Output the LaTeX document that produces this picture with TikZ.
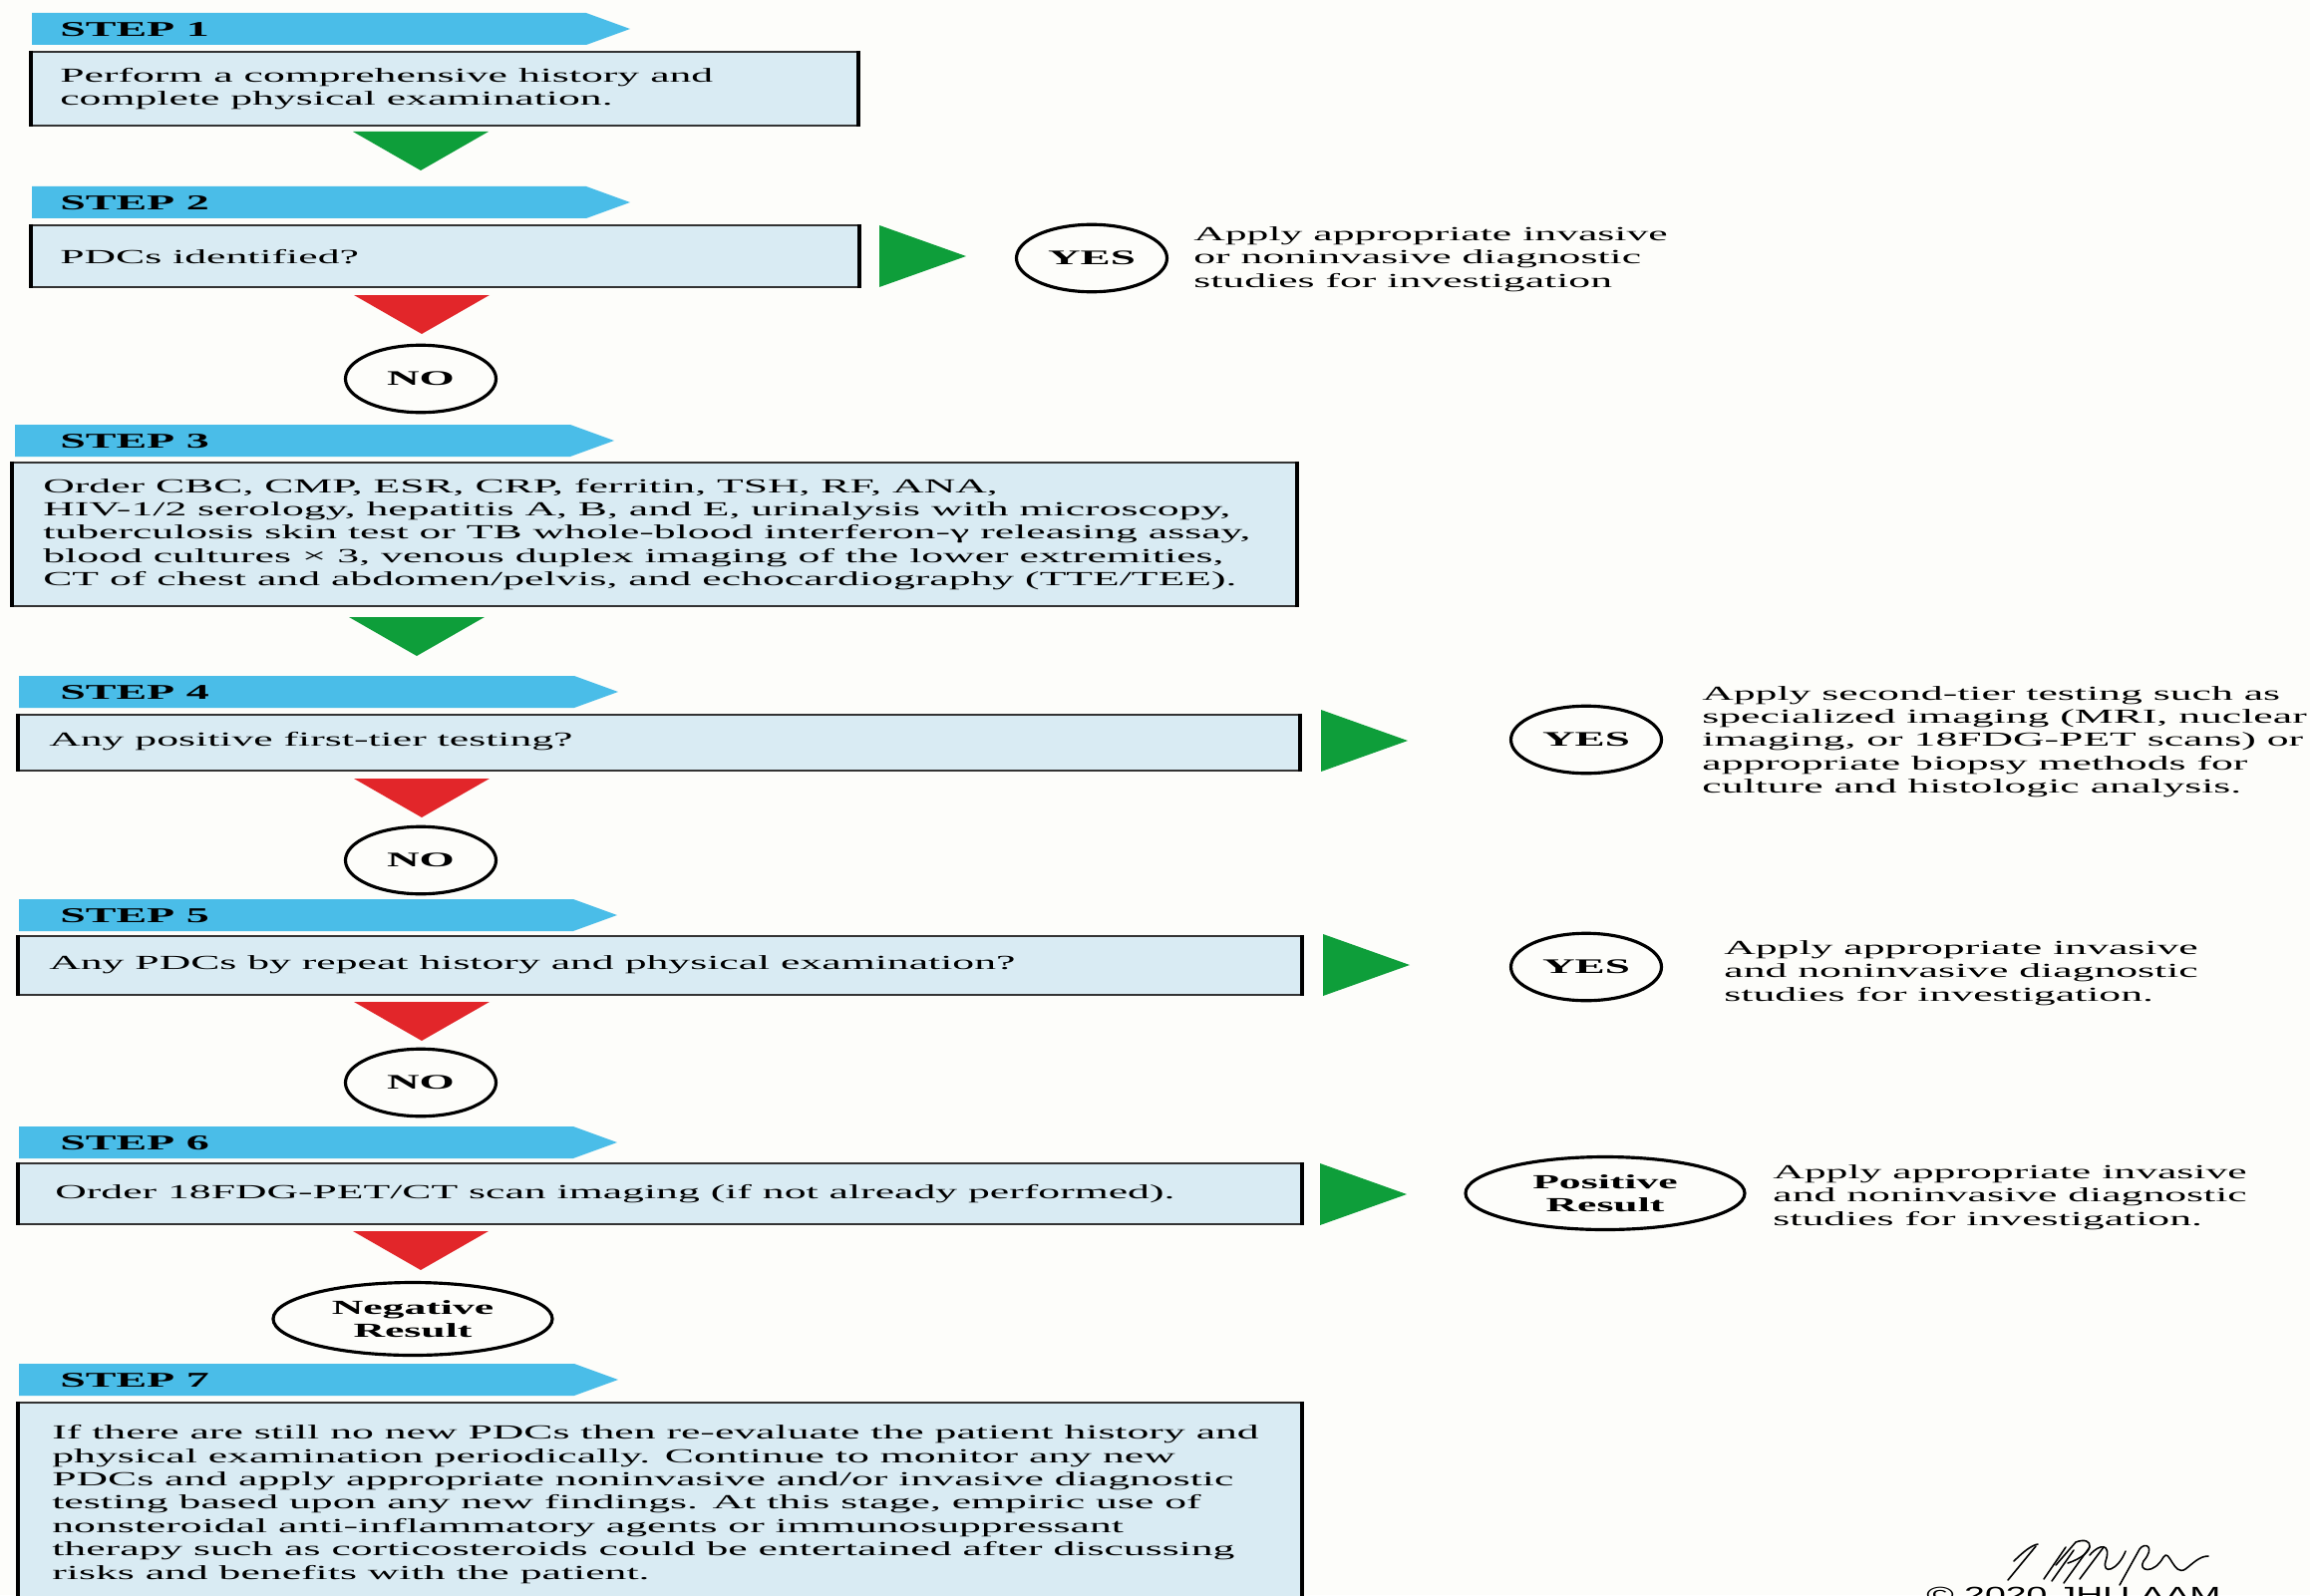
\documentclass[tikz,border=0pt]{standalone}
\usepackage{fontspec}
\setmainfont{Liberation Serif}[FakeStretch=2.18]
\newfontfamily\signfont{Liberation Sans}[FakeStretch=1.7]
\usetikzlibrary{shapes.geometric, fit, calc}
\definecolor{pagebg}{RGB}{253,253,250}
\definecolor{bannerc}{RGB}{74,189,232}
\definecolor{boxfill}{RGB}{217,235,243}
\definecolor{goc}{RGB}{14,158,58}
\definecolor{stopc}{RGB}{226,38,42}
\tikzset{
  stepbox/.style={fill=boxfill, draw=black!80, line width=1.3pt, inner sep=0pt},
  boxside/.style={black, line width=2.6pt},
  bodytext/.style={font=\fontsize{11.4}{13.3}\selectfont, align=left, inner sep=0pt, anchor=west},
  steplabel/.style={font=\fontsize{12}{13}\selectfont\bfseries, inner sep=0pt, anchor=west},
  answer/.style={ellipse, draw=black, line width=1.8pt, inner sep=0pt,
    font=\fontsize{11.8}{13}\selectfont\bfseries, minimum width=30.2mm, minimum height=13.5mm},
  result/.style={answer, font=\fontsize{11.4}{13}\selectfont\bfseries, align=center,
    minimum width=56mm, minimum height=14.6mm},
  sig/.style={black, line width=0.9pt, line cap=round, line join=round}
}
% banner: name, number, left x, tip x, top y
\newcommand{\stepbanner}[5]{%
  \fill[bannerc] (#3,#5) -- (#4-44,#5) -- (#4,#5+16) -- (#4-44,#5+32) -- (#3,#5+32) -- cycle;
  \node[steplabel] (#1) at (60,#5+17) {STEP #2};}
% box: name, x1, y1, x2, y2
\newcommand{\flowbox}[5]{%
  \node[stepbox, fit={(#2,#3) (#4,#5)}] (#1) {};
  \draw[boxside] (#1.north west) -- (#1.south west) (#1.north east) -- (#1.south east);}
\newcommand{\downtri}[3]{\fill[#1] (#2-68,#3) -- (#2+68,#3) -- (#2,#3+39) -- cycle;}
\newcommand{\righttri}[3]{\fill[#1] (#2,#3) -- (#2+87,#3+31) -- (#2,#3+62) -- cycle;}

\begin{document}
\begin{tikzpicture}[x=0.2mm, y=-0.2mm]
  \useasboundingbox (0,0) rectangle (2317,1600);
  \fill[pagebg] (0,0) rectangle (2317,1600);

  % step 1
  \stepbanner{s1}{1}{32}{632}{13}
  \flowbox{b1}{32}{52}{860}{126}
  \node[bodytext] (t1) at (60,89) {Perform a comprehensive history and\\complete physical examination.};
  \downtri{goc}{422}{132}

  % step 2
  \stepbanner{s2}{2}{32}{632}{187}
  \flowbox{b2}{32}{226}{861}{288}
  \node[bodytext] (t2) at (60,258) {PDCs identified?};
  \righttri{goc}{882}{226}
  \node[answer] (yes2) at (1095,259) {YES};
  \node[bodytext] (n2) at (1197,260) {Apply appropriate invasive\\or noninvasive diagnostic\\studies for investigation};
  \downtri{stopc}{423}{296}
  \node[answer] (no2) at (422,380) {NO};

  % step 3
  \stepbanner{s3}{3}{15}{616}{426}
  \flowbox{b3}{13}{464}{1300}{608}
  \node[bodytext] (t3) at (43,536) {Order CBC, CMP, ESR, CRP, ferritin, TSH, RF, ANA,\\
    HIV-1/2 serology, hepatitis A, B, and E, urinalysis with microscopy,\\
    tuberculosis skin test or TB whole-blood interferon-γ releasing assay,\\
    blood cultures × 3, venous duplex imaging of the lower extremities,\\
    CT of chest and abdomen/pelvis, and echocardiography (TTE/TEE).};
  \downtri{goc}{418}{619}

  % step 4
  \stepbanner{s4}{4}{19}{620}{678}
  \flowbox{b4}{19}{717}{1303}{773}
  \node[bodytext] (t4) at (49,744) {Any positive first-tier testing?};
  \righttri{goc}{1325}{712}
  \node[answer] (yes4) at (1591,742) {YES};
  \node[bodytext] (n4) at (1707,744) {Apply second-tier testing such as\\specialized imaging (MRI, nuclear\\imaging, or 18FDG-PET scans) or\\appropriate biopsy methods for\\culture and histologic analysis.};
  \downtri{stopc}{423}{781}
  \node[answer] (no4) at (422,863) {NO};

  % step 5
  \stepbanner{s5}{5}{19}{619}{902}
  \flowbox{b5}{19}{939}{1305}{998}
  \node[bodytext] (t5) at (49,968) {Any PDCs by repeat history and physical examination?};
  \righttri{goc}{1327}{937}
  \node[answer] (yes5) at (1591,970) {YES};
  \node[bodytext] (n5) at (1729,976) {Apply appropriate invasive\\and noninvasive diagnostic\\studies for investigation.};
  \downtri{stopc}{423}{1005}
  \node[answer] (no5) at (422,1086) {NO};

  % step 6
  \stepbanner{s6}{6}{19}{619}{1130}
  \flowbox{b6}{19}{1167}{1305}{1228}
  \node[bodytext] (t6) at (55,1198) {Order 18FDG-PET/CT scan imaging (if not already performed).};
  \righttri{goc}{1324}{1167}
  \node[result] (pos6) at (1610,1197) {Positive\\Result};
  \node[bodytext] (n6) at (1778,1201) {Apply appropriate invasive\\and noninvasive diagnostic\\studies for investigation.};
  \downtri{stopc}{422}{1235}
  \node[result] (neg6) at (414,1323) {Negative\\Result};

  % step 7
  \stepbanner{s7}{7}{19}{620}{1368}
  \flowbox{b7}{19}{1407}{1305}{1620}
  \node[bodytext] (t7) at (52,1509) {If there are still no new PDCs then re-evaluate the patient history and\\
    physical examination periodically. Continue to monitor any new\\
    PDCs and apply appropriate noninvasive and/or invasive diagnostic\\
    testing based upon any new findings. At this stage, empiric use of\\
    nonsteroidal anti-inflammatory agents or immunosuppressant\\
    therapy such as corticosteroids could be entertained after discussing\\
    risks and benefits with the patient.};

  % signature
  \draw[sig] (2020,1566) .. controls (2030,1556) and (2038,1550) .. (2044,1549);
  \draw[sig] (2042,1551) -- (2014,1585);
  \draw[sig] (2050,1584) -- (2072,1552) (2058,1586) -- (2080,1555);
  \draw[sig] (2062,1570) -- (2082,1547) .. controls (2100,1540) and (2104,1558) .. (2074,1568);
  \draw[sig] (2070,1588) -- (2096,1552) (2086,1584) -- (2110,1552);
  \draw[sig] (2096,1560) .. controls (2106,1548) and (2118,1548) .. (2112,1566)
    .. controls (2108,1580) and (2124,1576) .. (2132,1556);
  \draw[sig] (2126,1590) -- (2146,1554) .. controls (2152,1546) and (2162,1552) .. (2150,1566)
    .. controls (2144,1576) and (2160,1580) .. (2170,1562)
    .. controls (2176,1552) and (2180,1582) .. (2192,1574)
    .. controls (2200,1568) and (2206,1561) .. (2215,1561);
  \node[anchor=north west, inner sep=0pt, font=\signfont\fontsize{12.5}{13}\selectfont] (copy) at (1932,1592) {© 2020 JHU AAM};
\end{tikzpicture}
\end{document}
